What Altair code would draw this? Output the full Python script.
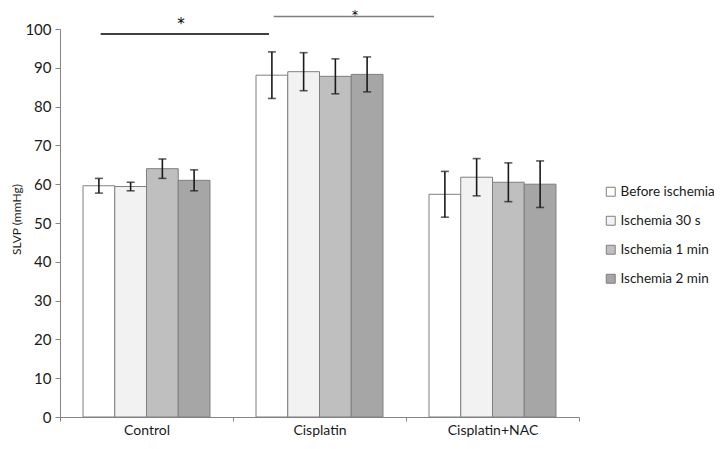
import altair as alt
import pandas as pd

groups = ["Control", "Cisplatin", "Cisplatin+NAC"]
series = ["Before ischemia", "Ischemia 30 s", "Ischemia 1 min", "Ischemia 2 min"]
colors = ["#ffffff", "#f2f2f2", "#bfbfbf", "#a6a6a6"]

before = [59.6, 88.1, 57.4]
isch30 = [59.4, 89.0, 61.8]
isch1 = [64.0, 87.8, 60.5]
isch2 = [61.0, 88.3, 60.0]

before_err = [1.9, 6.0, 5.9]
isch30_err = [1.1, 4.9, 4.8]
isch1_err = [2.5, 4.5, 5.0]
isch2_err = [2.7, 4.5, 6.0]

# significance brackets (x in group-index units, y in mmHg)
sig_x1 = [0.235, 1.235]
sig_x2 = [1.208, 2.162]
sig_y = [98.7, 103.2]
sig_color = ["#000000", "#7f7f7f"]
star_x = [0.70, 1.705]
star_y = [101.3, 105.0]

rows = []
for s, vals, errs in zip(series, [before, isch30, isch1, isch2],
                         [before_err, isch30_err, isch1_err, isch2_err]):
    for g, v, e in zip(groups, vals, errs):
        rows.append({"group": g, "series": s, "value": v, "lo": v - e, "hi": v + e})
df = pd.DataFrame(rows)

sig_df = pd.DataFrame({"x1": sig_x1, "x2": sig_x2, "y": sig_y, "c": sig_color})
star_df = pd.DataFrame({"x": star_x, "y": star_y, "t": ["*", "*"]})

W, H = 519, 388
FONT = "Lato"
YT = "SLVP (mmHg)"

x_enc = alt.X("group:N", sort=groups, title=None,
              scale=alt.Scale(paddingInner=0, paddingOuter=0),
              axis=alt.Axis(labelAngle=0, tickBand="extent", domainColor="#868686",
                            tickColor="#868686", tickSize=4, labelFontSize=14,
                            labelColor="#1a1a1a", labelPadding=2, labelFont=FONT))
xo_enc = alt.XOffset("series:N", sort=series,
                     scale=alt.Scale(paddingInner=0, paddingOuter=0.725))
y_scale = alt.Scale(domain=[0, 100], nice=False)


def y_axis():
    return alt.Axis(values=list(range(0, 101, 10)), grid=False, labelOverlap=False,
                    domainColor="#868686", tickColor="#868686", tickSize=5,
                    labelFontSize=15, labelColor="#1a1a1a", labelPadding=4,
                    labelFont=FONT, titleFont=FONT, titleFontSize=12,
                    titleFontWeight="normal", titleColor="#1a1a1a",
                    titleX=-44, titleY=H / 2 - 4, titleAngle=-90,
                    titleAlign="center", titleBaseline="middle")


bars = alt.Chart(df).mark_bar(stroke="#7f7f7f", strokeWidth=1).encode(
    x=x_enc,
    xOffset=xo_enc,
    y=alt.Y("value:Q", scale=y_scale, title=YT, axis=y_axis()),
    fill=alt.Fill("series:N", sort=series,
                  scale=alt.Scale(domain=series, range=colors),
                  legend=alt.Legend(title=None, orient="none", legendX=544, legendY=156,
                                    symbolType="square", symbolSize=80,
                                    symbolStrokeColor="#7f7f7f", symbolStrokeWidth=1,
                                    labelFont=FONT, labelFontSize=13.5,
                                    labelColor="#1a1a1a", rowPadding=14,
                                    labelOffset=3)),
)

err = alt.Chart(df).mark_rule(color="#1a1a1a", strokeWidth=1.6).encode(
    x=alt.X("group:N", sort=groups),
    xOffset=alt.XOffset("series:N", sort=series),
    y=alt.Y("lo:Q", title=YT, axis=y_axis()),
    y2="hi:Q",
)
cap_lo = alt.Chart(df).mark_tick(color="#1a1a1a", thickness=1.6, size=8).encode(
    x=alt.X("group:N", sort=groups),
    xOffset=alt.XOffset("series:N", sort=series),
    y=alt.Y("lo:Q", title=YT, axis=y_axis()),
)
cap_hi = alt.Chart(df).mark_tick(color="#1a1a1a", thickness=1.6, size=8).encode(
    x=alt.X("group:N", sort=groups),
    xOffset=alt.XOffset("series:N", sort=series),
    y=alt.Y("hi:Q", title=YT, axis=y_axis()),
)

xq = alt.Scale(domain=[0, 3], nice=False, zero=False)
sig = alt.Chart(sig_df).mark_rule(strokeWidth=1.5).encode(
    x=alt.X("x1:Q", scale=xq, axis=None),
    x2="x2:Q",
    y=alt.Y("y:Q", scale=y_scale, title=YT, axis=y_axis()),
    color=alt.Color("c:N", scale=None),
)
stars_mid = alt.Chart(star_df.iloc[[0]]).mark_text(
    fontSize=15, font="DejaVu Sans", color="#000000", baseline="middle").encode(
    x=alt.X("x:Q", scale=xq, axis=None),
    y=alt.Y("y:Q", scale=y_scale, title=YT, axis=y_axis()),
    text="t:N",
)
stars_top = alt.Chart(star_df.iloc[[1]]).mark_text(
    fontSize=12, font="DejaVu Sans", color="#000000", baseline="top").encode(
    x=alt.X("x:Q", scale=xq, axis=None),
    y=alt.Y("y:Q", scale=y_scale, title=YT, axis=y_axis()),
    text="t:N",
)

main = alt.layer(bars, err, cap_lo, cap_hi)
chart = alt.layer(main, sig, stars_mid, stars_top).resolve_scale(x="independent").properties(
    width=W, height=H,
    autosize=alt.AutoSizeParams(type="none"),
    padding={"left": 52, "top": 21, "right": 135, "bottom": 24},
).configure_view(stroke=None).configure_axis(labelFont=FONT)

chart.save("out.html", embed_options={"renderer": "svg", "actions": False})
